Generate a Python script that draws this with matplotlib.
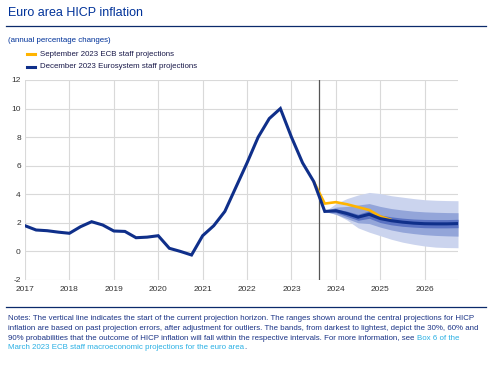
import numpy as np
import matplotlib
matplotlib.use("Agg")
import matplotlib.pyplot as plt
from matplotlib.lines import Line2D

plt.rcParams['font.family'] = ['Liberation Sans', 'DejaVu Sans']
plt.rcParams['axes.unicode_minus'] = False

# quarterly data, 2017Q1 .. 2026Q4
start_year = 2017
# history up to 2023Q3
hist = [1.8, 1.5, 1.45, 1.35,
        1.27, 1.73, 2.08, 1.85,
        1.43, 1.4, 0.96, 1.0,
        1.1, 0.22, 0.0, -0.25,
        1.1, 1.8, 2.8, 4.5,
        6.2, 8.0, 9.3, 10.0,
        8.0, 6.2, 4.9]
# December 2023 Eurosystem staff projections, 2023Q4 .. 2026Q4
dec_proj = [2.8, 2.85, 2.65, 2.4, 2.6, 2.3, 2.15, 2.05, 1.98, 1.94, 1.93, 1.93, 1.95]
# September 2023 ECB staff projections, 2023Q3 .. 2025Q2
sep_proj = [4.9, 3.35, 3.45, 3.3, 3.1, 2.9, 2.45, 2.2]
# uncertainty bands around the December projection, 2023Q4 .. 2026Q4
b90_hi = [2.8, 3.35, 3.7, 3.95, 4.13, 4.05, 3.9, 3.8, 3.7, 3.62, 3.58, 3.56, 3.55]
b90_lo = [2.8, 2.6, 2.2, 1.65, 1.35, 1.1, 0.85, 0.65, 0.5, 0.38, 0.3, 0.27, 0.26]
b60_hi = [2.8, 3.1, 3.15, 3.25, 3.35, 3.15, 3.0, 2.9, 2.82, 2.77, 2.74, 2.72, 2.71]
b60_lo = [2.8, 2.6, 2.3, 2.0, 1.95, 1.7, 1.5, 1.35, 1.25, 1.17, 1.12, 1.09, 1.07]
b30_hi = [2.8, 2.97, 2.82, 2.6, 2.85, 2.55, 2.42, 2.33, 2.27, 2.24, 2.23, 2.23, 2.25]
b30_lo = [2.8, 2.72, 2.45, 2.18, 2.32, 2.02, 1.86, 1.76, 1.7, 1.66, 1.65, 1.65, 1.66]
proj_start = 2023.63
years = list(range(2017, 2027))

navy = '#0f2f8a'
ecb_blue = '#003299'
note_col = '#1b3486'
link_col = '#2ab0e4'

central = hist + dec_proj
xq = start_year + np.arange(len(central)) / 4.0
xp = xq[len(hist):]
xs = xq[len(hist) - 1:len(hist) - 1 + len(sep_proj)]

fig = plt.figure(figsize=(4.97, 3.68), dpi=100)
ax = fig.add_axes([25 / 497, 1 - 280 / 368, 433 / 497, 200 / 368])

ax.fill_between(xp, b90_lo, b90_hi, color='#cbd4ee', lw=0)
ax.fill_between(xp, b60_lo, b60_hi, color='#93a5d9', lw=0)
ax.fill_between(xp, b30_lo, b30_hi, color='#5a72c2', lw=0)
ax.axvline(proj_start, color='#555555', lw=0.9, zorder=3)
ax.plot(xs, sep_proj, color='#ffb400', lw=1.9, solid_capstyle='butt', zorder=4)
ax.plot(xq, central, color=navy, lw=2.2, solid_joinstyle='miter', zorder=5)

ax.set_xlim(2017, 2026.75)
ax.set_ylim(-2, 12)
ax.set_xticks(years)
ax.set_xticklabels([str(y) for y in years])
ax.set_yticks(range(-2, 13, 2))
ax.grid(True, color='#d9d9d9', lw=0.8)
ax.set_axisbelow(True)
for s in ax.spines.values():
    s.set_visible(False)
ax.tick_params(length=0, labelsize=6, colors='#333333', pad=3)
ax.tick_params(axis='x', pad=4)

# header
fig.text(8 / 497, 1 - 13 / 368, 'Euro area HICP inflation', color=ecb_blue,
         fontsize=9.0, va='center', ha='left')
fig.add_artist(Line2D([6 / 497, 486 / 497], [1 - 26 / 368] * 2, color='#0b2a6b', lw=0.9))
fig.text(8 / 497, 1 - 40 / 368, '(annual percentage changes)', color=ecb_blue,
         fontsize=5.7, va='center')

# legend
for yy, c, lab in [(54, '#ffb400', 'September 2023 ECB staff projections'),
                   (67, navy, 'December 2023 Eurosystem staff projections')]:
    fig.add_artist(Line2D([27 / 497, 35 / 497], [1 - yy / 368] * 2, color=c, lw=2.2))
    fig.text(40 / 497, 1 - yy / 368, lab, color='#1a1a4a', fontsize=5.7, va='center')

# notes
fig.add_artist(Line2D([6 / 497, 486 / 497], [1 - 307 / 368] * 2, color='#0b2a6b', lw=0.9))
notes = ['Notes: The vertical line indicates the start of the current projection horizon. The ranges shown around the central projections for HICP',
         'inflation are based on past projection errors, after adjustment for outliers. The bands, from darkest to lightest, depict the 30%, 60% and',
         '90% probabilities that the outcome of HICP inflation will fall within the respective intervals. For more information, see ']
link1 = 'Box 6 of the'
link2 = 'March 2023 ECB staff macroeconomic projections for the euro area'
ny = [319, 328.5, 338, 347.5]
fs = 5.7
for t, yy in zip(notes, ny):
    last = fig.text(8 / 497, 1 - yy / 368, t, color=note_col, fontsize=fs, va='center')
fig.canvas.draw()
r = fig.canvas.get_renderer()
bb = last.get_window_extent(r)
fig.text(bb.x1 / fig.bbox.width, 1 - ny[2] / 368, link1, color=link_col, fontsize=fs, va='center')
t4 = fig.text(8 / 497, 1 - ny[3] / 368, link2, color=link_col, fontsize=fs, va='center')
bb = t4.get_window_extent(r)
fig.text(bb.x1 / fig.bbox.width, 1 - ny[3] / 368, '.', color=note_col, fontsize=fs, va='center')

fig.savefig('out.png', dpi=100)
